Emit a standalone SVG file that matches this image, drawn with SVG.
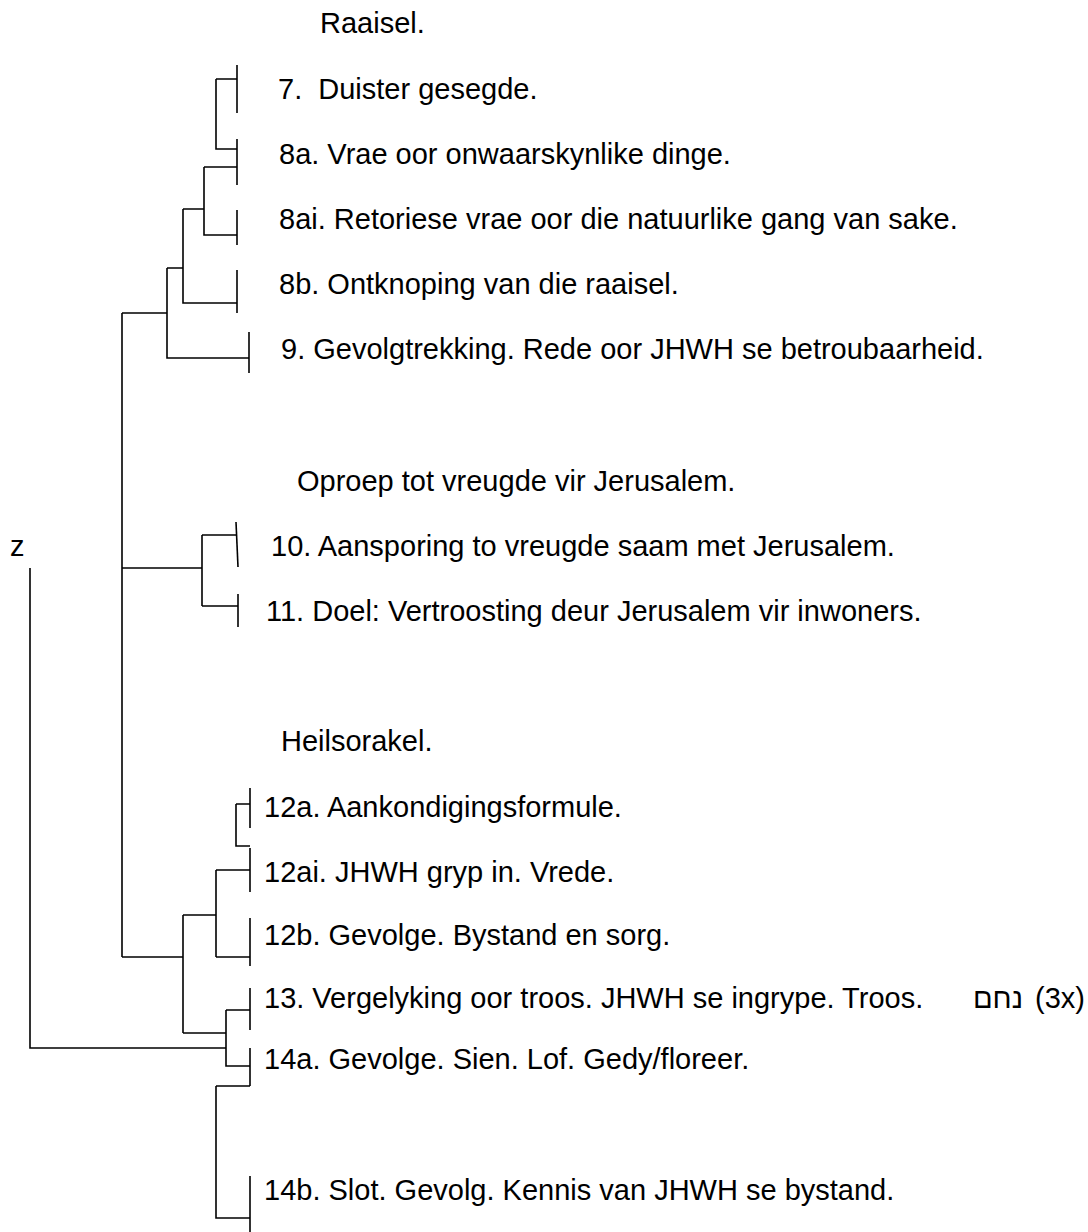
<svg xmlns="http://www.w3.org/2000/svg" width="1088" height="1232" viewBox="0 0 1088 1232">
<style>
text{font-family:"Liberation Sans",Arial,"DejaVu Sans",sans-serif;font-size:29px;fill:#000;white-space:pre}
.ln{stroke:#000;stroke-width:1.6;fill:none;stroke-linecap:butt}
</style>
<rect width="1088" height="1232" fill="#fff"/>
<g id="connectors" class="ln">
<path d="M216 79H237M216 79V149H237"/>
<path d="M204 167H237M204 167V235H237"/>
<path d="M183 209H204M183 209V303H237"/>
<path d="M167 268H183M167 268V358H249"/>
<path d="M122 313H167M122 313V957"/>
<path d="M122 568H202M202 535V606M202 535H236M202 606H238"/>
<path d="M122 957H183M183 915V1033M183 915H216M216 870V957M216 870H250M216 957H250"/>
<path d="M236 804H250M236 804V846H250"/>
<path d="M226 1010H250M226 1010V1066H250M183 1033H226"/>
<path d="M30 568V1048H226"/>
<path d="M216 1086H250M216 1086V1218H250"/>
</g>
<g id="title-raaisel"><text x="320" y="33">Raaisel.</text></g>
<g id="n7"><path class="ln" d="M237 65V113"/><text x="278" y="99">7.  Duister gesegde.</text></g>
<g id="n8a"><path class="ln" d="M237 139V185"/><text x="279" y="164">8a. Vrae oor onwaarskynlike dinge.</text></g>
<g id="n8ai"><path class="ln" d="M237 210V245"/><text x="279" y="229">8ai. Retoriese vrae oor die natuurlike gang van sake.</text></g>
<g id="n8b"><path class="ln" d="M237 270V313"/><text x="279" y="294">8b. Ontknoping van die raaisel.</text></g>
<g id="n9"><path class="ln" d="M249 332V373"/><text x="281" y="359">9. Gevolgtrekking. Rede oor JHWH se betroubaarheid.</text></g>
<g id="title-oproep"><text x="297" y="491">Oproep tot vreugde vir Jerusalem.</text></g>
<g id="n10"><path class="ln" d="M236 522L238 567"/><text x="271" y="556">10. Aansporing to vreugde saam met Jerusalem.</text></g>
<g id="n11"><path class="ln" d="M238 594V627"/><text x="266" y="621">11. Doel: Vertroosting deur Jerusalem vir inwoners.</text></g>
<g id="title-heilsorakel"><text x="281" y="751">Heilsorakel.</text></g>
<g id="n12a"><path class="ln" d="M250 788V828"/><text x="264" y="817">12a. Aankondigingsformule.</text></g>
<g id="n12ai"><path class="ln" d="M250 848V892"/><text x="264" y="882">12ai. JHWH gryp in. Vrede.</text></g>
<g id="n12b"><path class="ln" d="M250 918V966"/><text x="264" y="945">12b. Gevolge. Bystand en sorg.</text></g>
<g id="n13"><path class="ln" d="M250 988V1030"/><text x="264" y="1008">13. Vergelyking oor troos. JHWH se ingrype. Troos.</text><text x="1023" y="1008" text-anchor="end">נחם</text><text x="1035" y="1008">(3x)</text></g>
<g id="n14a"><path class="ln" d="M250 1048V1086"/><text x="264" y="1069">14a. Gevolge. Sien. Lof. Gedy/floreer.</text></g>
<g id="n14b"><path class="ln" d="M250 1176V1232"/><text x="264" y="1200">14b. Slot. Gevolg. Kennis van JHWH se bystand.</text></g>
<g id="root"><text x="10" y="556">z</text></g>
</svg>
